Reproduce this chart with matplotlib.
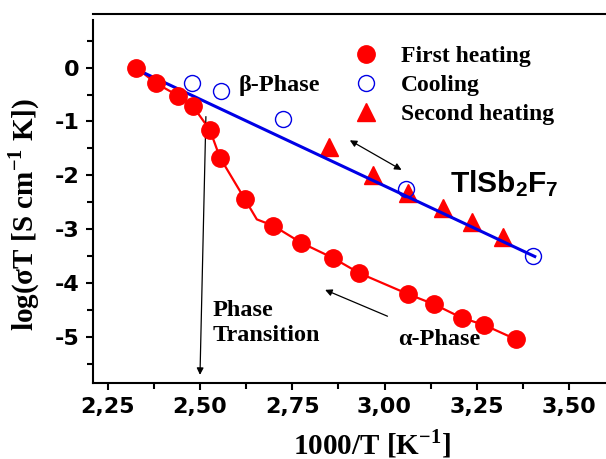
import numpy as np
import matplotlib as mpl
import matplotlib.pyplot as plt

mpl.rcParams['mathtext.fontset'] = 'custom'
mpl.rcParams['mathtext.rm'] = 'Liberation Serif:bold'
mpl.rcParams['mathtext.bf'] = 'Liberation Serif:bold'
mpl.rcParams['mathtext.sf'] = 'Liberation Sans:bold'

# Data

# first heating: markers, and the drawn polyline (has one extra kink vertex)
heat1_x = [2.327, 2.381, 2.440, 2.480, 2.527, 2.554, 2.622, 2.699, 2.773,
           2.861, 2.932, 3.064, 3.135, 3.209, 3.269, 3.356]
heat1_y = [0.00, -0.29, -0.52, -0.71, -1.16, -1.67, -2.45, -2.94, -3.25,
           -3.54, -3.82, -4.21, -4.40, -4.65, -4.78, -5.05]
heat1_line_x = heat1_x[:7] + [2.654] + heat1_x[7:]
heat1_line_y = heat1_y[:7] + [-2.82] + heat1_y[7:]

cool_x = [2.477, 2.556, 2.725, 3.058, 3.403]
cool_y = [-0.28, -0.43, -0.95, -2.26, -3.50]

heat2_x = [2.850, 2.969, 3.064, 3.159, 3.236, 3.322]
heat2_y = [-1.47, -1.99, -2.33, -2.61, -2.86, -3.14]

# straight fit through the beta phase
beta_fit_x = [2.346, 3.407]
beta_fit_y = [-0.09, -3.51]

x_ticks = [2.25, 2.50, 2.75, 3.00, 3.25, 3.50]
x_ticklabels = ['2,25', '2,50', '2,75', '3,00', '3,25', '3,50']
y_ticks = [0, -1, -2, -3, -4, -5]
y_ticklabels = ['0', '-1', '-2', '-3', '-4', '-5']

# Styles
red = '#ff0000'
blue = '#0000e6'
serif = 'Liberation Serif'
tick_font = {'family': 'DejaVu Sans', 'weight': 'bold', 'size': 16}
note_font = {'family': serif, 'weight': 'bold', 'size': 17.5}
arrow_style = {'arrowstyle': '-|>', 'color': 'black', 'lw': 0.9,
               'mutation_scale': 10, 'shrinkA': 0, 'shrinkB': 0}

fig = plt.figure(figsize=(6.06, 4.59), dpi=100)
ax = fig.add_axes([0.154, 0.165, 0.846, 0.8046])

ax.set_xlim(2.211, 3.600)
ax.set_ylim(-5.866, 0.998)

# lines first, markers on top
ax.plot(heat1_line_x, heat1_line_y, color=red, lw=1.6, zorder=2)
ax.plot(beta_fit_x, beta_fit_y, color=blue, lw=2.2, zorder=3)

h1, = ax.plot(heat1_x, heat1_y, 'o', color=red, ms=12.5, mec=red,
              zorder=4, label='First heating')
h3, = ax.plot(heat2_x, heat2_y, '^', color=red, ms=13.5, mec=red,
              zorder=2.5, label='Second heating')
h2, = ax.plot(cool_x, cool_y, 'o', mfc='none', mec=blue, mew=1.0, ms=11.5,
              zorder=5, label='Cooling')

# Annotations
ax.annotate('', xy=(2.500, -5.71), xytext=(2.516, -0.91),
            arrowprops=arrow_style)
ax.annotate('', xy=(2.839, -4.13), xytext=(3.008, -4.62),
            arrowprops=arrow_style)
ax.annotate('', xy=(2.906, -1.35), xytext=(3.046, -1.90),
            arrowprops={**arrow_style, 'arrowstyle': '<|-|>'})

ax.text(2.606, -0.33, 'β-Phase', va='center', ha='left', **note_font)
ax.text(2.535, -4.74, 'Phase\nTransition', va='center', ha='left',
        linespacing=1.25, **note_font)
ax.text(3.036, -5.06, 'α-Phase', va='center', ha='left', **note_font)
ax.text(3.177, -2.16, r'$\mathsf{TlSb_2F_7}$', va='center', ha='left',
        fontsize=21.5)

leg = ax.legend(handles=[h1, h2, h3], loc='upper left',
                bbox_to_anchor=(0.49, 0.94), frameon=False,
                prop={'family': serif, 'weight': 'bold', 'size': 17},
                handlelength=1.0, handletextpad=1.0, labelspacing=0.32,
                borderaxespad=0.0)

# Axes frame
for side in ['left', 'bottom', 'top']:
    ax.spines[side].set_linewidth(1.5)
ax.spines['right'].set_visible(False)
ax.spines['left'].set_bounds(-5.866, 0.887)

ax.set_xticks(x_ticks)
ax.set_xticklabels(x_ticklabels, fontdict=tick_font)
ax.set_yticks(y_ticks)
ax.set_yticklabels(y_ticklabels, fontdict=tick_font)
ax.xaxis.set_minor_locator(mpl.ticker.MultipleLocator(0.125))
ax.yaxis.set_minor_locator(mpl.ticker.MultipleLocator(0.5))
ax.tick_params(which='both', direction='out', width=1.5, top=False,
               right=False)
ax.tick_params(which='major', length=5, pad=5)
ax.tick_params(which='minor', length=4)

ax.set_xlabel(r'1000/T [K$^{-1}$]', family=serif, weight='bold', size=21)
ax.set_ylabel(r'log(σT [S cm$^{-1}$ K])', family=serif, weight='bold',
              size=21)
ax.xaxis.set_label_coords(0.543, -0.118)
ax.yaxis.set_label_coords(-0.100, 0.457)

fig.savefig('out.png', dpi=100)
